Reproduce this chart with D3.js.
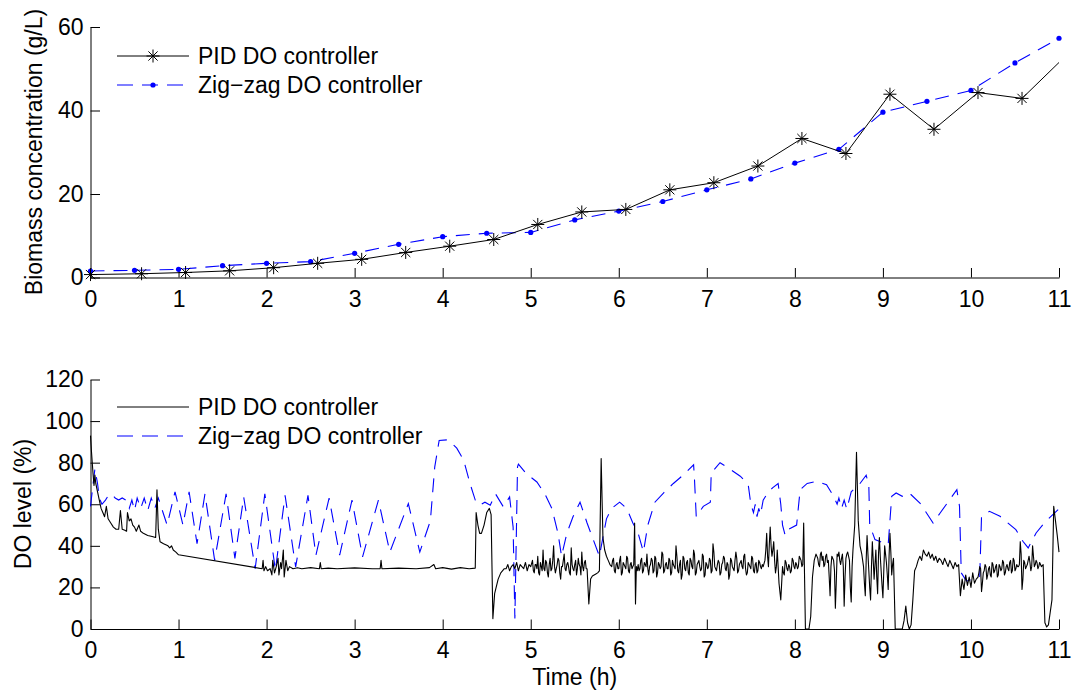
<!DOCTYPE html>
<html lang="en">
<head>
<meta charset="UTF-8">
<title>Biomass and DO level</title>
<script src="https://cdn.jsdelivr.net/npm/d3@7"></script>
<style>
  body { margin: 0; background: #fff; }
  svg { display: block; font-family: "Liberation Sans", Arial, sans-serif; }
</style>
</head>
<body>
<svg width="1077" height="696"></svg>
<script>
  // ---- data ----
  const hourTicks = [0, 1, 2, 3, 4, 5, 6, 7, 8, 9, 10, 11];
  const biomassTicks = [0, 20, 40, 60];
  const doTicks = [0, 20, 40, 60, 80, 100, 120];
  const seriesNames = ['PID DO controller', 'Zig\u2212zag DO controller'];

  // biomass, PID run (last sample has no marker)
  const pidHours = [0, 0.58, 1.08, 1.58, 2.08, 2.58, 3.08, 3.58, 4.08, 4.58, 5.08, 5.58,
    6.08, 6.58, 7.08, 7.58, 8.08, 8.58, 9.08, 9.58, 10.08, 10.58, 11];
  const pidBiomass = [0.7, 0.9, 1.2, 1.6, 2.35, 3.4, 4.35, 6.0, 7.5, 9.1, 12.7, 15.7,
    16.3, 21.0, 22.7, 26.7, 33.3, 29.7, 43.9, 35.5, 44.3, 42.9, 51.5];

  // biomass, zig-zag run
  const zigHours = [0, 0.5, 1, 1.5, 2, 2.5, 3, 3.5, 4, 4.5, 5, 5.5, 6, 6.5, 7, 7.5, 8,
    8.5, 9, 9.5, 10, 10.5, 11];
  const zigBiomass = [1.56, 1.72, 1.96, 2.83, 3.4, 3.8, 5.8, 7.95, 9.77, 10.6, 10.8, 13.8,
    15.9, 18.2, 21.0, 23.6, 27.4, 30.7, 39.6, 42.2, 44.8, 51.4, 57.3];

  // DO, PID run: sparse part as [hour, %]
  const pidDoSparse = [[0, 93], [0.01, 86], [0.02, 80], [0.03, 74], [0.04, 69], [0.05, 74],
    [0.06, 70], [0.08, 66], [0.1, 62], [0.12, 58], [0.14, 56], [0.16, 54], [0.18, 59],
    [0.2, 53], [0.23, 51], [0.26, 49], [0.29, 48], [0.32, 48], [0.34, 57], [0.36, 48],
    [0.39, 47.5], [0.41, 47], [0.42, 56], [0.44, 52], [0.46, 53], [0.48, 50], [0.5, 49],
    [0.52, 47], [0.55, 50], [0.57, 47], [0.6, 46], [0.65, 45], [0.7, 44.5], [0.74, 44],
    [0.755, 67], [0.77, 48], [0.79, 42], [0.83, 41], [0.88, 40], [0.9, 39], [0.92, 40],
    [0.94, 38], [0.97, 37], [1.0, 35.7], [1.95, 29], [1.96, 33], [1.97, 28], [1.99, 30],
    [2.01, 28], [2.04, 29], [2.06, 26], [2.07, 33], [2.09, 27], [2.11, 30], [2.13, 34],
    [2.14, 26], [2.16, 32], [2.17, 29], [2.19, 38], [2.2, 25], [2.22, 33], [2.24, 28],
    [2.26, 30], [2.3, 29], [2.35, 29.5], [2.4, 29], [2.5, 29.5], [2.6, 29], [2.61, 32],
    [2.62, 29], [2.7, 29.3], [2.8, 29], [3.0, 29.4], [3.2, 29], [3.29, 29], [3.3, 33],
    [3.31, 29], [3.5, 29.3], [3.7, 29], [3.85, 29.5], [3.9, 31], [3.92, 29], [4.0, 29.5],
    [4.1, 28.8], [4.2, 29.5], [4.3, 29], [4.37, 29.3], [4.38, 56], [4.4, 50], [4.42, 46],
    [4.44, 46], [4.47, 50], [4.5, 56], [4.53, 58], [4.55, 55], [4.56, 30], [4.57, 5],
    [4.59, 17], [4.63, 24], [4.66, 27], [4.7, 29]];

  // DO, PID run: densely logged stretches, [start hour, step h, values]
  const pidDoLogged = [
    [4.72, 0.02, [29, 31, 28, 30, 31, 29, 32, 28, 31, 30, 29, 32, 28, 31, 30]],
    [5.02, 0.01, [33, 28, 27, 31, 31, 29, 35, 27, 26, 32, 30, 28, 38, 29, 28, 33, 32, 27, 25, 31,
      34, 28, 29, 33, 40, 30, 27, 29, 31, 34, 33, 27, 24, 30, 30, 33, 36, 29, 28, 31,
      32, 30, 27, 26, 39, 31, 29, 28, 31, 33, 26, 29, 34, 31, 30, 26, 37, 30, 28, 32, 33, 29, 29]],
    [5.66, 0.02, [12, 24, 25.5, 26, 26.5, 27, 28, 82, 44, 38, 35, 33, 31]],
    [5.92, 0.01, [30, 33, 34, 28, 27, 31, 32, 29, 29, 33, 35, 26, 27, 32, 31, 30, 29, 35, 34, 28,
      27, 31, 32, 29, 30, 31, 51, 12, 30, 28]],
    [6.22, 0.01, [31, 28, 29, 33, 34, 27, 28, 32, 31, 30, 36, 29, 26, 30, 31, 34, 33, 27, 28, 35,
      34, 25, 27, 32, 31, 29, 30, 37, 36, 27, 28, 31, 32, 29, 29, 34, 33, 26, 27, 33,
      31, 30, 29, 40, 35, 28, 27, 31, 33, 24, 26, 35, 34, 29, 28, 32, 33, 27, 26, 34,
      33, 30, 29, 38, 36, 26, 27, 31, 32, 33, 30, 28, 29, 36, 35, 25, 26, 32, 31, 29,
      30, 34, 33, 27, 28, 41, 37, 30, 29, 28, 31, 33, 32, 26, 27, 31, 32, 35, 34, 29,
      28, 32, 31, 24, 26, 34, 33, 30, 29, 28, 33, 37, 34, 27, 28, 31, 32, 33, 30, 29,
      35, 36, 29, 26, 27, 32, 31, 30, 29, 35, 34, 28, 27, 31, 32, 27, 28, 33, 32, 30,
      29, 31, 30]],
    [7.66, 0.01, [33, 38, 46, 35, 30, 41, 49, 40, 35, 38, 42, 33, 27, 30, 38, 30, 22, 18, 14]],
    [7.86, 0.01, [30, 27, 26, 33, 32, 29, 28, 31, 30, 27, 28, 34, 33, 30, 29, 32, 31, 29, 30, 35,
      34, 33, 30, 31, 51]],
    [8.12, 0.02, [0, 0, 0, 6, 25, 33, 36]],
    [8.26, 0.01, [34, 31, 30, 36, 37, 33, 35, 30, 31, 35, 36, 32, 33, 25, 16, 30, 35, 34, 33, 28,
      10, 22, 36, 35, 37, 33, 31, 34, 36, 30, 11, 25, 34, 36, 37, 35, 33, 20, 13, 30, 38]],
    [8.68, 0.02, [50, 85, 52, 40, 36]],
    [8.78, 0.01, [30, 22, 16, 33, 45, 36, 28, 20, 14, 30, 42, 33, 24, 31, 38, 25, 17, 36, 44, 35,
      28, 21, 15, 28, 40, 36, 32, 26, 19, 35, 46, 37, 26, 31, 34]],
    [9.14, 0.02, [0, 0, 0, 0, 0, 4, 11, 3, 0, 2, 14, 28, 30, 33, 35, 33, 38, 36]],
    [9.5, 0.02, [35, 37, 34, 36, 33, 35, 32, 34, 33, 31, 34, 32, 30, 33, 31, 29, 32, 30, 31]],
    [9.88, 0.02, [16, 24, 19, 26, 21, 25, 20, 27, 22, 24]],
    [10.08, 0.01, [25, 27, 30, 29, 18, 22, 27, 28, 31, 30, 24, 26, 29, 30, 26, 25, 32, 31, 27, 28,
      30, 31, 25, 26, 31, 30, 28, 29, 33, 32, 26, 27, 30, 31, 29, 28, 32, 33, 27, 28,
      34, 33, 28, 29, 31, 30, 30, 31, 42, 36, 19, 24, 33, 32, 29, 30, 31, 33, 35, 32,
      28, 30, 40, 35, 30, 31, 33, 32, 29, 30, 32, 31, 30]],
    [10.82, 0.02, [31, 3, 1, 2, 8, 14, 59, 52, 45, 37]]
  ];

  // DO, zig-zag run as [hour, %]
  const zigDo = [[0, 59], [0.03, 70], [0.05, 77], [0.08, 70], [0.1, 63], [0.13, 60],
    [0.17, 62], [0.2, 64], [0.24, 65], [0.28, 63], [0.32, 62], [0.36, 63], [0.4, 62],
    [0.44, 58], [0.47, 62], [0.5, 57], [0.53, 63], [0.57, 58], [0.61, 63], [0.65, 57],
    [0.69, 63], [0.73, 58], [0.77, 63], [0.87, 50], [0.96, 66], [1.05, 50], [1.12, 66],
    [1.21, 41], [1.3, 65], [1.41, 33], [1.54, 65], [1.64, 34], [1.74, 63.5], [1.87, 29],
    [1.98, 65], [2.1, 28.3], [2.21, 64.3], [2.33, 29.9], [2.47, 64.3], [2.56, 35.5],
    [2.71, 63], [2.83, 35.5], [2.97, 62], [3.09, 34.7], [3.27, 62], [3.4, 37], [3.61, 60.3],
    [3.74, 37], [3.86, 52], [3.91, 78], [3.96, 90.7], [4.06, 91], [4.16, 87], [4.24, 81],
    [4.31, 70], [4.37, 62], [4.42, 59.5], [4.48, 61], [4.54, 59.5], [4.6, 65], [4.69, 58.7],
    [4.76, 63.5], [4.8, 49], [4.82, 5], [4.85, 78], [4.86, 79.3], [4.95, 74.7], [5.07, 70.7],
    [5.16, 65], [5.24, 58], [5.31, 46], [5.35, 35], [5.41, 46], [5.48, 54], [5.56, 61],
    [5.64, 51], [5.71, 43], [5.78, 35], [5.86, 53], [5.92, 58], [6.01, 61], [6.09, 58],
    [6.16, 51], [6.22, 46], [6.28, 37], [6.33, 50], [6.41, 61], [6.51, 65.5], [6.62, 70],
    [6.73, 74], [6.85, 79], [6.86, 72], [6.88, 54], [6.96, 59], [7.04, 61], [7.05, 75],
    [7.15, 80], [7.26, 77], [7.38, 73.5], [7.47, 69.5], [7.5, 60], [7.53, 56], [7.55, 60],
    [7.57, 54], [7.59, 58], [7.61, 55], [7.64, 62], [7.7, 66], [7.75, 68], [7.81, 70],
    [7.84, 60], [7.86, 50], [7.89, 45], [7.93, 48], [8.02, 50], [8.06, 67], [8.14, 70],
    [8.25, 71], [8.36, 69.4], [8.44, 63.8], [8.48, 60], [8.5, 63], [8.53, 58], [8.56, 62],
    [8.59, 57.6], [8.64, 66], [8.74, 70], [8.81, 74], [8.84, 69], [8.85, 50], [8.91, 43],
    [9.06, 40.6], [9.1, 63.8], [9.15, 65.4], [9.22, 63.8], [9.3, 65.4], [9.42, 60.6],
    [9.57, 51], [9.65, 55.8], [9.84, 67], [9.87, 59], [9.89, 27], [9.95, 23], [10.1, 25.4],
    [10.12, 54.2], [10.21, 56.6], [10.33, 54.2], [10.51, 47.8], [10.59, 42.2], [10.65, 39],
    [10.74, 46.2], [10.85, 51.8], [10.99, 57.4]];

  // ---- build ----
  const pidDo = pidDoSparse.slice();
  pidDoLogged.forEach(function(seg) {
    seg[2].forEach(function(v, i) {
      pidDo.push([+(seg[0] + i * seg[1]).toFixed(3), v]);
    });
  });

  const svg = d3.select('svg');
  const font = 23;

  const x = d3.scaleLinear().domain([0, 11]).range([90.5, 1059]);
  const yTop = d3.scaleLinear().domain([0, 60]).range([277.5, 27]);
  const yBot = d3.scaleLinear().domain([0, 120]).range([629, 379.5]);

  function styleAxis(g) {
    g.attr('font-size', font).attr('font-family', '"Liberation Sans", Arial, sans-serif');
    g.selectAll('path, line').attr('stroke', '#000').attr('stroke-width', 1);
    g.selectAll('text').attr('fill', '#000');
  }

  function drawAxes(yScale, yTicks, yBase) {
    svg.append('g')
      .attr('transform', 'translate(0,' + yBase + ')')
      .call(d3.axisBottom(x).tickValues(hourTicks).tickSizeInner(-9.5).tickSizeOuter(0).tickPadding(13))
      .call(styleAxis);
    svg.append('g')
      .attr('transform', 'translate(' + x(0) + ',0)')
      .call(d3.axisLeft(yScale).tickValues(yTicks).tickSizeInner(-9.5).tickSizeOuter(0).tickPadding(7))
      .call(styleAxis);
  }

  drawAxes(yTop, biomassTicks, yTop(0));
  drawAxes(yBot, doTicks, yBot(0));

  // ---- top: biomass ----
  const pidPts = pidHours.map(function(h, i) { return [h, pidBiomass[i]]; });
  const zigPts = zigHours.map(function(h, i) { return [h, zigBiomass[i]]; });

  const lineTop = d3.line().x(function(d) { return x(d[0]); }).y(function(d) { return yTop(d[1]); });
  const lineBot = d3.line().x(function(d) { return x(d[0]); }).y(function(d) { return yBot(d[1]); });

  const star = function(r) {
    const a = r * 0.7071;
    return 'M' + (-r) + ',0H' + r + 'M0,' + (-r) + 'V' + r +
      'M' + (-a) + ',' + (-a) + 'L' + a + ',' + a + 'M' + (-a) + ',' + a + 'L' + a + ',' + (-a);
  };

  svg.append('path').datum(zigPts)
    .attr('d', lineTop).attr('fill', 'none')
    .attr('stroke', '#0000ff').attr('stroke-width', 1.1).attr('stroke-dasharray', '14,9');
  svg.append('g').selectAll('circle').data(zigPts).enter().append('circle')
    .attr('cx', function(d) { return x(d[0]); })
    .attr('cy', function(d) { return yTop(d[1]); })
    .attr('r', 2.6).attr('fill', '#0000ff');

  svg.append('path').datum(pidPts)
    .attr('d', lineTop).attr('fill', 'none')
    .attr('stroke', '#000').attr('stroke-width', 1);
  svg.append('g').selectAll('path').data(pidPts.slice(0, -1)).enter().append('path')
    .attr('transform', function(d) { return 'translate(' + x(d[0]) + ',' + yTop(d[1]) + ')'; })
    .attr('d', star(6.5)).attr('stroke', '#000').attr('stroke-width', 1).attr('fill', 'none');

  // ---- bottom: DO ----
  svg.append('path').datum(zigDo)
    .attr('d', lineBot).attr('fill', 'none')
    .attr('stroke', '#0000ff').attr('stroke-width', 1.1).attr('stroke-dasharray', '14,9');
  svg.append('path').datum(pidDo)
    .attr('d', lineBot).attr('fill', 'none')
    .attr('stroke', '#000').attr('stroke-width', 1.1).attr('stroke-linejoin', 'round');

  // ---- legends ----
  function legend(y1, y2, withMarkers) {
    const g = svg.append('g');
    g.append('line').attr('x1', 117).attr('x2', 189).attr('y1', y1).attr('y2', y1)
      .attr('stroke', '#000').attr('stroke-width', 1);
    g.append('line').attr('x1', 117).attr('x2', 189).attr('y1', y2).attr('y2', y2)
      .attr('stroke', '#0000ff').attr('stroke-width', 1.1).attr('stroke-dasharray', '16,9');
    if (withMarkers) {
      g.append('path').attr('transform', 'translate(153,' + y1 + ')')
        .attr('d', star(6.5)).attr('stroke', '#000').attr('fill', 'none');
      g.append('circle').attr('cx', 153).attr('cy', y2).attr('r', 2.6).attr('fill', '#0000ff');
    }
    g.selectAll('text').data(seriesNames).enter().append('text')
      .attr('x', 198).attr('y', function(d, i) { return i ? y2 : y1; })
      .attr('dy', '0.35em').attr('font-size', font).text(function(d) { return d; });
  }
  legend(56, 85, true);
  legend(407, 436, false);

  // ---- axis titles ----
  svg.append('text')
    .attr('transform', 'translate(34,152) rotate(-90)')
    .attr('text-anchor', 'middle').attr('dy', '0.35em').attr('font-size', font)
    .text('Biomass concentration (g/L)');
  svg.append('text')
    .attr('transform', 'translate(23,504) rotate(-90)')
    .attr('text-anchor', 'middle').attr('dy', '0.35em').attr('font-size', font)
    .text('DO level (%)');
  svg.append('text')
    .attr('x', x(5.5)).attr('y', 685)
    .attr('text-anchor', 'middle').attr('font-size', font)
    .text('Time (h)');
</script>
</body>
</html>
